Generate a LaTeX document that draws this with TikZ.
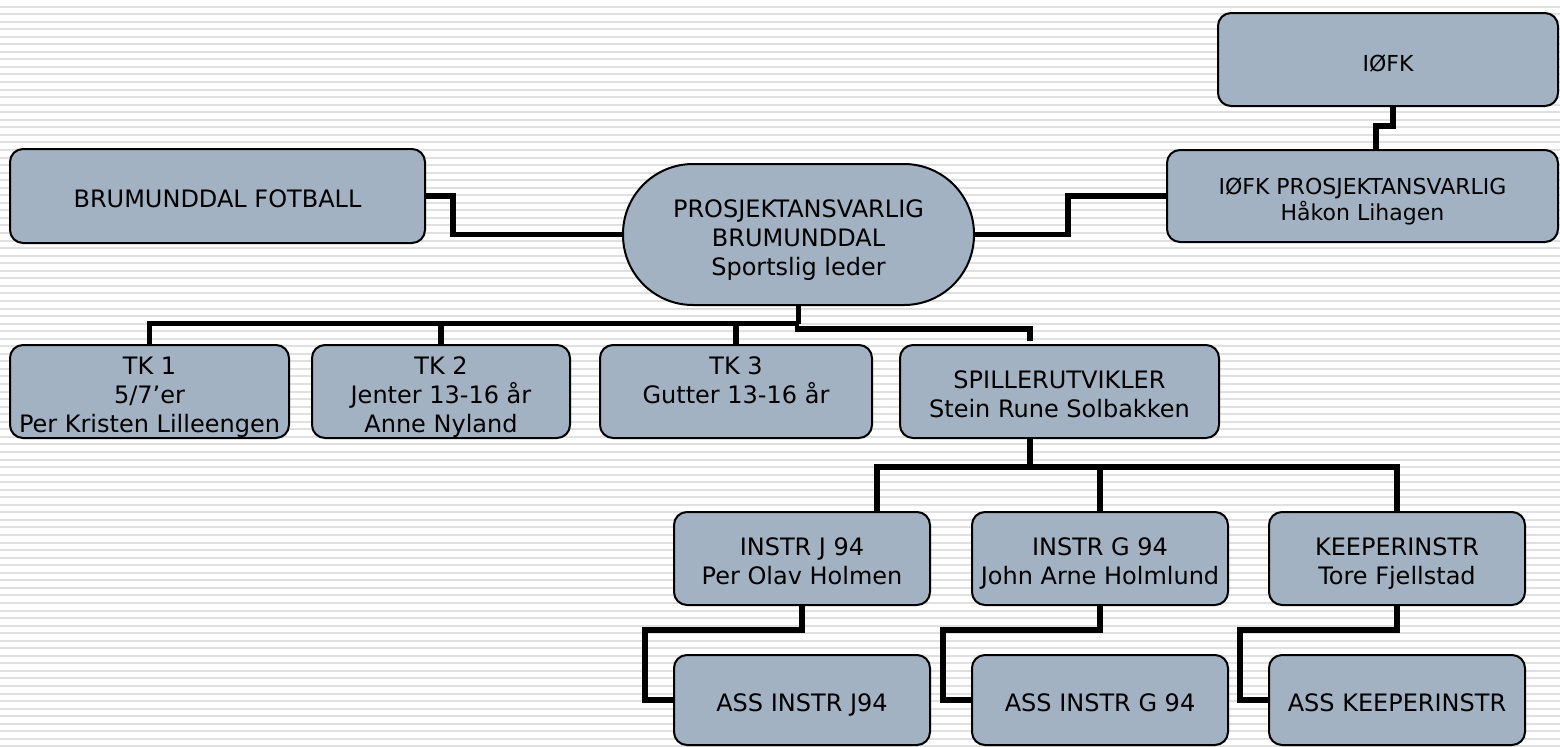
\documentclass[tikz,border=0pt]{standalone}
\usepackage{fontspec}
\setmainfont{DejaVu Sans}
\usetikzlibrary{calc}
\definecolor{boxfill}{RGB}{163,178,194}
\definecolor{stripe}{RGB}{224,224,224}
\tikzset{
  box/.style={draw=black, line width=1pt, fill=boxfill, rounded corners=6.5pt,
    inner sep=0pt, align=center, font=\fontsize{12pt}{14.5pt}\selectfont},
  smallbox/.style={box, font=\fontsize{11pt}{13pt}\selectfont},
  stadium/.style={box, rounded corners=35pt},
  conn/.style={draw=black, line width=2.6pt},
}
\newcommand{\topstrut}{\rule{0pt}{14.5pt}}
\newcommand{\botstrut}{\rule[-3pt]{0pt}{3pt}}
\newcommand{\bx}[7][box]{%
  \node[#1, minimum width={(#5-#3)*0.5pt}, minimum height={(#6-#4)*0.5pt}]
    (#2) at ({(#3+#5)/2},{(#4+#6)/2}) {\topstrut#7\botstrut};}
\begin{document}
\begin{tikzpicture}[x=0.5pt,y=-0.5pt]
\useasboundingbox (0,0) rectangle (1560,746);
\fill[white] (0,0) rectangle (1560,746);
\foreach \i in {0,...,98} {
  \draw[stripe, line width=1pt] (0,{6.5+7.55*\i}) -- (1560,{6.5+7.55*\i});
}
% boxes
\bx[smallbox]{iofk}{1218}{13}{1558}{106}{IØFK}
\bx[smallbox]{ipros}{1167}{150}{1558}{242}{IØFK PROSJEKTANSVARLIG\\Håkon Lihagen}
\bx{bf}{10}{149}{425}{243}{BRUMUNDDAL FOTBALL}
\bx[stadium]{stad}{623}{164}{974}{305}{PROSJEKTANSVARLIG\\BRUMUNDDAL\\Sportslig leder}
\bx{tk1}{10}{345}{289}{438}{TK 1\\5/7’er\\Per Kristen Lilleengen}
\bx{tk2}{312}{345}{570}{438}{TK 2\\Jenter 13-16 år\\Anne Nyland}
\bx{tk3}{600}{345}{872}{438}{TK 3\\Gutter 13-16 år\\\mbox{}}
\bx{spill}{900}{345}{1219}{438}{SPILLERUTVIKLER\\Stein Rune Solbakken}
\bx{ij}{674}{512}{930}{605}{INSTR J 94\\Per Olav Holmen}
\bx{ig}{972}{512}{1228}{605}{INSTR G 94\\John Arne Holmlund}
\bx{ik}{1269}{512}{1525}{605}{KEEPERINSTR\\Tore Fjellstad}
\bx{aj}{674}{655}{930}{745}{ASS INSTR J94}
\bx{ag}{972}{655}{1228}{745}{ASS INSTR G 94}
\bx{ak}{1269}{655}{1525}{745}{ASS KEEPERINSTR}
% connectors
\draw[conn] (bf.east) -- ++(27,0) |- (stad.west);
\draw[conn] (stad.east) -- ++(93,0) |- (ipros.west);
\draw[conn] ($(iofk.south)+(5,0)$) -- ++(0,19) -| ($(ipros.north)+(13.5,0)$);
\draw[conn] (stad.south) -- ++(0,17.5) coordinate (j1);
\draw[conn] (j1) -| (tk1.north);
\draw[conn] (j1) -| (tk2.north);
\draw[conn] (j1) -| (tk3.north);
\draw[conn] ($(j1)+(-4,5.5)$) -| ($(spill.north)+(-29.5,-3)$);
\draw[conn] ($(spill.south)+(-29.5,0)$) -- ++(0,28) coordinate (j2);
\draw[conn] (j2) -| ($(ij.north)+(75,0)$);
\draw[conn] (j2) -| (ig.north);
\draw[conn] (j2) -| (ik.north);
\draw[conn] (ij.south) -- ++(0,24) -| ($(aj.west)+(-28,0)$) -- (aj.west);
\draw[conn] (ig.south) -- ++(0,24) -| ($(ag.west)+(-28,0)$) -- (ag.west);
\draw[conn] (ik.south) -- ++(0,24) -| ($(ak.west)+(-28,0)$) -- (ak.west);
\end{tikzpicture}
\end{document}
